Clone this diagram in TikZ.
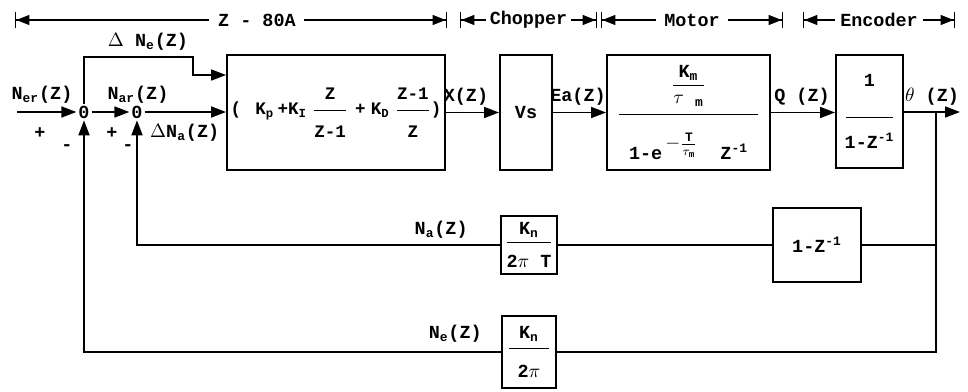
\documentclass[tikz,border=0pt]{standalone}
\usepackage{amsmath}
\usepackage{fontspec}
\setmonofont{Liberation Mono}
\usepackage{tikz}
\usetikzlibrary{arrows.meta,positioning,calc}
\newcommand{\ts}[2]{#1\textsubscript{#2}}
% fraccion con mas aire arriba y abajo, como en el original
\newcommand{\hfr}[4]{\dfrac{#3\rule[-#1]{0pt}{#1}}{\rule{0pt}{#2}#4}}

\begin{document}
\begin{tikzpicture}[
  x=0.02cm, y=-0.02cm,
  font=\ttfamily\bfseries\fontsize{10.5}{12}\selectfont,
  sig/.style={-{Triangle[length=3mm,width=2.2mm]},line width=1pt},
  wire/.style={line width=1pt},
  blk/.style={draw,line width=1.1pt,inner sep=2pt},
  dim/.style={line width=0.8pt,
    {Bar[width=3.2mm]Triangle[length=2.6mm,width=2mm]}-{Triangle[length=2.6mm,width=2mm]Bar[width=3.2mm]}},
  tag/.style={fill=white,inner xsep=5pt,inner ysep=1pt},
]
  \useasboundingbox (0,0) rectangle (968,392);

  % cotas de arriba: una por cada etapa
  \coordinate (zL) at (15,20);   \coordinate (zR) at (447,20);
  \coordinate (cL) at (460,20);  \coordinate (cR) at (597,20);
  \coordinate (mL) at (601,20);  \coordinate (mR) at (783,20);
  \coordinate (eL) at (803,20);  \coordinate (eR) at (955,20);
  \draw[dim] (zL) -- node[tag,pos=0.56] {Z - 80A} (zR);
  \draw[dim] (cL) -- node[tag,inner xsep=2pt] {Chopper} (cR);
  \draw[dim] (mL) -- node[tag] {Motor} (mR);
  \draw[dim] (eL) -- node[tag,inner xsep=3pt] {Encoder} (eR);

  % sumadores
  \node[inner sep=1pt] (s1) at (84,112) {0};
  \node[inner sep=1pt] (s2) at (137,112) {0};
  \coordinate (in) at (17,112);

  \node[blk,minimum width=4.36cm,minimum height=2.3cm,font=\ttfamily\bfseries\fontsize{10}{12}\selectfont]
        (pid) at (336,112.5)
        {(\hspace{8pt}\ts{K}{p}\hspace{2pt}+\ts{K}{I}\hspace{3pt}$\hfr{5pt}{14pt}{\texttt{Z}}{\texttt{Z-1}}$\hspace{4pt}+\hspace{3pt}\ts{K}{D}\hspace{3pt}$\hfr{5pt}{14pt}{\texttt{Z-1}}{\texttt{Z}}$)};
  \node[blk,minimum width=1.04cm,minimum height=2.3cm] (vs) at (526,112.5) {Vs};
  \node[blk,minimum width=3.26cm,minimum height=2.3cm] (mot) at (688.5,112.5)
        {$\hfr{12pt}{24pt}{\dfrac{\texttt{K\textsubscript{m}}}{\tau\ _{\texttt{m}}}}
          {\makebox[2.8cm]{\texttt{1-e}\,$^{\textstyle-\frac{\texttt{T}}{\tau_{\texttt{m}}}}$\ \ \texttt{Z}$^{\texttt{-1}}$}}$};
  \node[blk,minimum width=1.34cm,minimum height=2.26cm] (enc) at (869.5,111.5)
        {$\hfr{16pt}{16pt}{\texttt{1}}{\makebox[0.95cm]{\texttt{1-Z}$^{\texttt{-1}}$}}$};
  \coordinate (out) at (960,112);
  \coordinate (br) at (936,112);

  \node[blk,minimum width=1.76cm,minimum height=1.48cm] (diff) at (817,245) {1-Z\textsuperscript{-1}};
  \node[blk,minimum width=1.08cm,minimum height=1.16cm] (kt) at (529,245)
        {$\hfr{2pt}{13pt}{\texttt{K\textsubscript{n}}}{\texttt{2}\pi\texttt{ T}}$};
  \node[blk,minimum width=1.08cm,minimum height=1.44cm] (kp) at (529,352)
        {$\hfr{4pt}{15pt}{\texttt{K\textsubscript{n}}}{\makebox[0.8cm]{\texttt{2}$\pi$}}$};

  % camino directo
  \draw[sig] (in) -- (s1);
  \draw[sig] (s1) -- (s2);
  \draw[sig] (s2) -- (s2 -| pid.west);
  \draw[sig] (pid) -- (vs);
  \draw[sig] (vs) -- (mot);
  \draw[sig] (mot) -- (mot -| enc.west);
  \draw[sig] (enc.east |- out) -- (out);

  % prealimentacion por arriba
  \coordinate (ffa) at (193,57);
  \coordinate (ffb) at (193,75);
  \draw[sig] (s1.north) |- (ffa) -- (ffb) -- (ffb -| pid.west);

  % realimentaciones
  \draw[wire] (br) -- (br |- kp) -- (kp);
  \draw[wire] (br |- diff) -- (diff);
  \draw[wire] (diff) -- (kt);
  \draw[sig] (kt) -| (s2.south);
  \draw[sig] (kp) -| (s1.south);

  % rotulos
  \node at (42,95) {\ts{N}{er}(Z)};
  \node at (138,95) {\ts{N}{ar}(Z)};
  \node at (148,42) {$\Delta$ \ts{N}{e}(Z)};
  \node[anchor=west] at (144,133) {$\Delta$\ts{N}{a}(Z)};
  \node at (40,133) {+};
  \node at (67,148) {-};
  \node at (112,133) {+};
  \node at (128,148) {-};
  \node at (466,97) {X(Z)};
  \node at (578,97) {Ea(Z)};
  \node at (802,97) {Q (Z)};
  \node at (932,97) {$\theta$ (Z)};
  \node[above left=0.12cm and 0.64cm of kt.west,inner sep=0pt] {\ts{N}{a}(Z)};
  \node[above left=0.18cm and 0.38cm of kp.west,inner sep=0pt] {\ts{N}{e}(Z)};
\end{tikzpicture}
\end{document}
